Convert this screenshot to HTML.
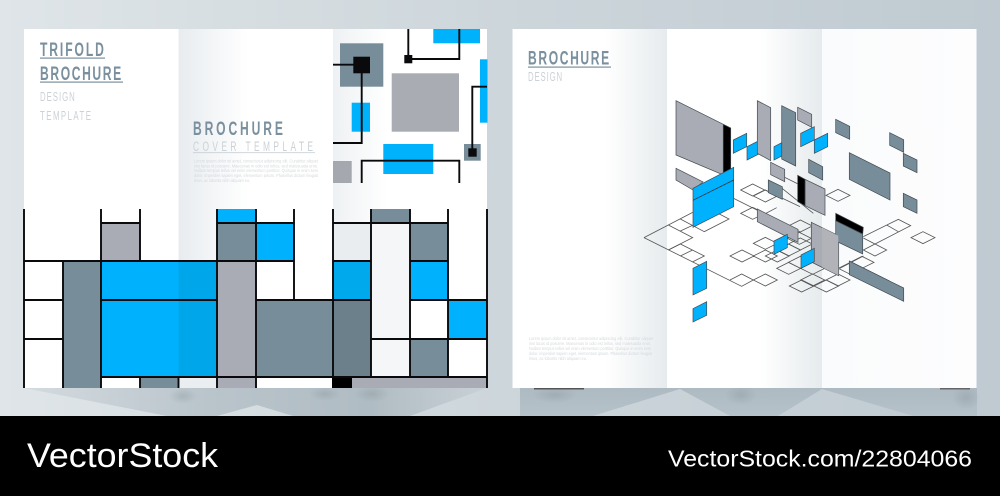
<!DOCTYPE html>
<html><head><meta charset="utf-8"><style>
html,body{margin:0;padding:0;background:#000;width:1000px;height:496px;overflow:hidden}
svg{display:block}
text{font-family:"Liberation Sans",sans-serif}
.h{fill:#7a909e;font-weight:bold;font-size:19.5px}
.l{fill:#cbd1d6;font-size:13px}
.p{fill:#d4d9dd;font-size:4.6px}
.ln{fill:none;stroke:#0a0a0c;stroke-width:1.9}
.w path{fill:none;stroke:#555;stroke-width:2.4}
.pn polygon{stroke:#444b52;stroke-width:.7}
</style></head><body>
<svg width="1000" height="496" viewBox="0 0 1000 496" xmlns="http://www.w3.org/2000/svg">
<defs>
<linearGradient id="bg" x1="0" x2="1" y1="0" y2="0"><stop offset="0" stop-color="#dfe5e8"/><stop offset=".5" stop-color="#cdd6db"/><stop offset="1" stop-color="#bfcad1"/></linearGradient>
<linearGradient id="f1" x1="0" x2="1" y1="0" y2="0"><stop offset="0" stop-color="#e8ecef"/><stop offset=".45" stop-color="#fff"/><stop offset="1" stop-color="#fff"/></linearGradient>
<linearGradient id="f1b" x1="0" x2="1" y1="0" y2="0"><stop offset="0" stop-color="#eef1f3"/><stop offset=".35" stop-color="#fff"/><stop offset="1" stop-color="#fff"/></linearGradient>
<linearGradient id="f2" x1="0" x2="1" y1="0" y2="0"><stop offset="0" stop-color="#fff"/><stop offset=".6" stop-color="#fff"/><stop offset="1" stop-color="#e6ebed"/></linearGradient>
<linearGradient id="f3" x1="0" x2="1" y1="0" y2="0"><stop offset="0" stop-color="#fafbfc"/><stop offset="1" stop-color="#fdfdfe"/></linearGradient>
<linearGradient id="sh" x1="0" x2="0" y1="0" y2="1"><stop offset="0" stop-color="#aebac2"/><stop offset="1" stop-color="#b6c2c9"/></linearGradient>
<linearGradient id="sh2" x1="0" x2="1" y1="0" y2="0"><stop offset="0" stop-color="#d4dbdf"/><stop offset=".4" stop-color="#b9c4cb"/><stop offset=".75" stop-color="#b0bcc3"/><stop offset="1" stop-color="#c8d1d6"/></linearGradient>
<radialGradient id="mo"><stop offset="0" stop-color="#7d888f" stop-opacity=".3"/><stop offset="1" stop-color="#7d888f" stop-opacity="0"/></radialGradient>
</defs>
<rect width="1000" height="416" fill="url(#bg)"/>
<polygon points="24,388 487,388 410,416 293,416 257,405 217,416 167,416" fill="url(#sh2)"/>
<polygon points="520,388 977,388 977,416 913,416 822,389 778,416 730,416 680,389 593,416 520,416" fill="url(#sh)"/>
<ellipse cx="183" cy="396" rx="14" ry="8" fill="url(#mo)"/>
<ellipse cx="325" cy="394" rx="16" ry="7" fill="url(#mo)"/>
<ellipse cx="372" cy="394" rx="18" ry="8" fill="url(#mo)"/>
<ellipse cx="555" cy="395" rx="22" ry="8" fill="url(#mo)"/>
<ellipse cx="741" cy="395" rx="16" ry="10" fill="url(#mo)"/>
<ellipse cx="966" cy="398" rx="14" ry="12" fill="url(#mo)"/>
<rect x="534" y="388" width="50" height="1.500" fill="#555"/><rect x="940" y="388" width="30" height="1.500" fill="#666"/>

<!-- left sheet -->
<rect x="24" y="29" width="463" height="359" fill="#fff"/>
<rect x="178.500" y="29" width="154.500" height="359" fill="url(#f1)"/>
<rect x="333" y="29" width="154" height="359" fill="url(#f1b)"/>

<text class="h" transform="translate(40,56) scale(.62,1)" textLength="103" lengthAdjust="spacing">TRIFOLD</text>
<rect x="40" y="57.500" width="65" height="1.200" fill="#7a909e"/>
<text class="h" transform="translate(40,80) scale(.62,1)" textLength="131" lengthAdjust="spacing">BROCHURE</text>
<rect x="40" y="81.500" width="83" height="1.200" fill="#7a909e"/>
<text class="l" transform="translate(40,101) scale(.6,1)" textLength="58" lengthAdjust="spacing">DESIGN</text>
<text class="l" transform="translate(40,120) scale(.6,1)" textLength="85" lengthAdjust="spacing">TEMPLATE</text>
<text class="h" transform="translate(193,135) scale(.62,1)" textLength="145" lengthAdjust="spacing">BROCHURE</text>
<text class="l" style="font-size:14px" transform="translate(193,151) scale(.6,1)" textLength="200" lengthAdjust="spacing">COVER TEMPLATE</text>
<rect x="193" y="152.300" width="122" height=".8" fill="#c5ccd2"/>
<g class="p">
<text x="194" y="162.500" textLength="124" lengthAdjust="spacingAndGlyphs">Lorem ipsum dolor sit amet, consectetur adipiscing elit. Curabitur aliquet</text>
<text x="194" y="167.300" textLength="124" lengthAdjust="spacingAndGlyphs">nisi lacus id posuere. Maecenas in odio est tellus, sed malesuada eros.</text>
<text x="194" y="172.200" textLength="124" lengthAdjust="spacingAndGlyphs">Nullam tempus tellus vel enim elementum porttitor. Quisque in enim sem</text>
<text x="194" y="177" textLength="124" lengthAdjust="spacingAndGlyphs">dolor, imperdiet sapien eget, elementum ipsum. Phasellus dictum feugiat</text>
<text x="194" y="181.800" textLength="56" lengthAdjust="spacingAndGlyphs">risus, ac lobortis nibh aliquam eu.</text>
</g>

<!-- top right panel -->
<rect x="340" y="43.300" width="43.300" height="43.400" fill="#788d9a"/>
<rect x="351.700" y="102.700" width="18.300" height="29" fill="#00b1fb"/>
<rect x="433.300" y="29" width="46.700" height="14.300" fill="#00b1fb"/>
<rect x="391.700" y="73.300" width="67.300" height="58.400" fill="#a9acb2"/>
<rect x="480" y="59.300" width="7.500" height="63.400" fill="#00b1fb"/>
<rect x="383.300" y="144" width="50" height="30" fill="#00b1fb"/>
<rect x="333" y="161" width="18.700" height="22" fill="#a5a9af"/>
<rect x="464" y="144" width="16.700" height="16.700" fill="#788d9a"/>
<path class="ln" d="M333 64.700H354M361.700 73V143H333M408.300 29V59H459.300V29M487 86.700H472.300V153M361.700 183V160.700H459.300V183"/>
<rect x="353.300" y="56.700" width="16.700" height="16.600" fill="#0a0a0c"/>
<rect x="404.300" y="55" width="8" height="8.300" fill="#0a0a0c"/>
<rect x="468.300" y="148.300" width="8.400" height="8.400" fill="#0a0a0c"/>

<!-- mosaic -->
<rect x="333" y="223" width="38" height="38" fill="#e9edf0"/>
<rect x="371" y="223" width="39" height="154" fill="#f5f6f8"/>
<rect x="101" y="223" width="39" height="38" fill="#a9acb4"/>
<rect x="63" y="261" width="38" height="127" fill="#788d9a"/>
<rect x="101" y="261" width="77.500" height="116" fill="#00b1fe"/>
<rect x="178.500" y="261" width="38.500" height="116" fill="#00a6ea"/>
<rect x="140" y="377" width="38.500" height="11" fill="#788d9a"/>
<rect x="178.500" y="377" width="38.500" height="11" fill="#eaeef0"/>
<rect x="217" y="209" width="39" height="14" fill="#00b1fe"/>
<rect x="217" y="223" width="39" height="38" fill="#788d9a"/>
<rect x="217" y="261" width="39" height="127" fill="#a9acb4"/>
<rect x="256" y="223" width="38" height="38" fill="#00b1fe"/>
<rect x="256" y="300" width="77" height="77" fill="#788d9a"/>
<rect x="333" y="300" width="38" height="77" fill="#6c808c"/>
<rect x="333" y="261" width="38" height="39" fill="#00a8ec"/>
<rect x="371" y="209" width="39" height="14" fill="#788d9a"/>
<rect x="410" y="223" width="38" height="38" fill="#788d9a"/>
<rect x="410" y="261" width="38" height="39" fill="#00b1fe"/>
<rect x="410" y="339" width="38" height="38" fill="#788d9a"/>
<rect x="448" y="300" width="39" height="39" fill="#00b1fe"/>
<rect x="332" y="377" width="20" height="11" fill="#000"/>
<rect x="352" y="377" width="135" height="11" fill="#a9acb4"/>
<path class="ln" d="M24 209V388M63 261V388M101 209V388M140 209V261M140 377V388M178.500 377V388M217 209V388M256 209V388M294 209V300M333 209V377M371 209V377M410 209V377M448 209V377M487 209V388"/>
<path class="ln" d="M101 223H140M217 223H294M333 223H448M24 261H140M101 261H294M333 261H371M410 261H448M24 300H63M101 300H217M256 300H371M410 300H487M24 339H63M371 339H487M101 377H487"/>

<!-- right sheet -->
<rect x="512.500" y="29" width="464" height="359" fill="#fff"/>
<rect x="512.500" y="29" width="154.500" height="359" fill="url(#f2)"/>
<rect x="667" y="29" width="155" height="359" fill="url(#f2)"/>
<rect x="822" y="29" width="154.500" height="359" fill="url(#f3)"/>
<text class="h" transform="translate(528,64.500) scale(.62,1)" textLength="131" lengthAdjust="spacing">BROCHURE</text>
<rect x="528" y="66.500" width="83" height="1.200" fill="#7a909e"/>
<text class="l" transform="translate(528,81) scale(.6,1)" textLength="57" lengthAdjust="spacing">DESIGN</text>
<g class="p">
<text x="529" y="340.200" textLength="124" lengthAdjust="spacingAndGlyphs">Lorem ipsum dolor sit amet, consectetur adipiscing elit. Curabitur aliquet</text>
<text x="529" y="345.200" textLength="122" lengthAdjust="spacingAndGlyphs">nisi lacus id posuere. Maecenas in odio est tellus, sed malesuada eros.</text>
<text x="529" y="350.100" textLength="122" lengthAdjust="spacingAndGlyphs">Nullam tempus tellus vel enim elementum porttitor. Quisque in enim sem</text>
<text x="529" y="354.800" textLength="123" lengthAdjust="spacingAndGlyphs">dolor, imperdiet sapien eget, elementum ipsum. Phasellus dictum feugiat</text>
<text x="529" y="359.800" textLength="58" lengthAdjust="spacingAndGlyphs">risus, ac lobortis nibh aliquam eu.</text>
</g>

<!-- isometric wire grid -->
<g class="w" transform="translate(640,200) scale(.33333)">
<path d="M12 113L85 75L158 37M12 113L305 259L340 240L305 222L270 240M85 75L158 113L85 150"/>
<path d="M121 57L193 95L267 57L230 38M121 93L160 75M85 150L121 132L193 168L157 186M121 168L158 150"/>
<path d="M340 240l36-18 36 18-36 18z"/>
<path d="M270 168l36-18 36 18-36 18zM340 130l36-18 36 18-36 18zM340 168l36-18 36 18-36 18z"/>
<path d="M302 40l36-18 36 18-36 18zM302 -30l36-18 36 18-36 18zM340 -12l36-18 36 18-36 18z"/>
<path d="M281 -5L410 60M410 23L374 42M375 -30L480 20"/>
<path d="M445 78l36-18 36 18-36 18zM442 115l36-18 36 18-36 18zM410 150l36-18 36 18-36 18zM376 168l36-18 36 18-36 18zM410 205l36-18 36 18-36 18zM445 187l36-18 36 18-36 18zM482 205l36-18 36 18-36 18zM482 240l36-18 36 18-36 18zM445 132l36-18 36 18-36 18z"/>
<path d="M448 258l37-18 37 18-37 18zM522 258l37-18 37 18-37 18zM558 240l36-18 36 18-36 18zM595 205l36-18 36 18-36 18zM630 187l36-18 36 18-36 18z"/>
<path d="M670 110L775 58l37 19-107 55-35-18M740 75L775 95M670 150L705 132L740 150L705 168zM600 205L670 168"/>
<path d="M813 113l36-18 36 18-36 18z"/>
<path d="M420 -75L555 -8M420 -40L520 40M558 -14l36-18 36 18-36 18z"/>
</g>

<!-- iso panels -->
<g class="pn">
<polygon points="676,168.300 703,182 693,190 676,180" fill="#a9acb4"/>
<polygon points="676,100.700 723.300,124.300 723.300,175 676,155" fill="#a9acb4"/>
<polygon points="723.300,124.300 730.700,128 730.700,170 723.300,174" fill="#000"/>
<polygon points="693,188.300 733.700,167.300 733.700,206.700 693,227.300" fill="#00b1fe"/>
<polygon points="733.300,140 746.700,133.300 746.700,146.700 733.300,153.300" fill="#00b1fe"/>
<polygon points="747,146.700 760.300,140 760.300,153.300 747,160" fill="#00b1fe"/>
<polygon points="757.300,100.700 770.700,107.700 770.700,160.700 757.300,153.300" fill="#a9acb4"/>
<polygon points="781.700,105.700 795.700,112.700 795.700,166 781.700,159" fill="#788d9a"/>
<polygon points="774,146.700 781.700,142.700 781.700,156 774,160" fill="#00b1fe"/>
<polygon points="770.700,162.300 784.700,169.300 784.700,181.700 770.700,174.700" fill="#a9acb4"/>
<polygon points="768.300,180 782.300,186.700 782.300,199.300 768.300,192.700" fill="#788d9a"/>
<polygon points="797.700,107.300 811.700,114.300 811.700,127.300 797.700,120" fill="#a9acb4"/>
<polygon points="800.700,133.300 814.300,126.700 814.300,140 800.700,146.700" fill="#00b1fe"/>
<polygon points="814.300,140 827.700,133.300 827.700,146.700 814.300,153.300" fill="#00b1fe"/>
<polygon points="835.700,119.300 849.700,126.300 849.700,139.300 835.700,132.700" fill="#788d9a"/>
<polygon points="889.700,132.700 903.700,139.700 903.700,152.300 889.700,145.300" fill="#788d9a"/>
<polygon points="903.300,153.300 917,160 917,172.700 903.300,166" fill="#788d9a"/>
<polygon points="903.300,193.300 917,200 917,213.300 903.300,206.700" fill="#788d9a"/>
<polygon points="849.300,152.700 890,173 890,200 849.300,179.300" fill="#788d9a"/>
<polygon points="808.700,159.300 822.700,166.700 822.700,180 808.700,172.700" fill="#788d9a"/>
<polygon points="805,179.300 825,189 825,215.300 805,205.700" fill="#a9acb4"/>
<polygon points="797.700,175.300 805,179.300 805,205.700 797.700,201.700" fill="#000"/>
<polygon points="757.300,209 798,229.300 798,242.300 757.300,221.700" fill="#a9acb4"/>
<polygon points="774,241 787.300,234.300 787.300,247.700 774,254.300" fill="#00b1fe"/>
<polygon points="811.300,222.300 838.700,235.700 838.700,275.700 811.300,262" fill="#a9acb4"/>
<polygon points="801,255 814.300,248.300 814.300,261.700 801,268.300" fill="#00b1fe"/>
<polygon points="835.700,220.700 862.700,234 862.700,254 835.700,241" fill="#788d9a"/>
<polygon points="835.700,213.300 863.300,227.300 862.700,234 835.700,220.700" fill="#000"/>
<polygon points="849.300,261 903.700,288 903.700,301.300 849.300,274.700" fill="#788d9a"/>
<polygon points="693,268.300 706.700,261.300 706.700,288.300 693,295" fill="#00b1fe"/>
<polygon points="693,308.700 706.700,301.700 706.700,315.300 693,322" fill="#00b1fe"/>
</g>
<polygon points="822,227.500 838.300,235.800 838.300,275.300 822,267.200" fill="#b1b3b9"/>
<path d="M693 200.300L733.700 180" stroke="#333" stroke-width=".8" fill="none"/>

<!-- footer -->
<rect y="416" width="1000" height="80" fill="#000"/>
<text x="27" y="467" fill="#fff" font-size="34" textLength="191" lengthAdjust="spacingAndGlyphs">VectorStock</text>
<text x="668" y="466.500" fill="#fff" font-size="23" textLength="304" lengthAdjust="spacingAndGlyphs">VectorStock.com/22804066</text>
</svg>
</body></html>
